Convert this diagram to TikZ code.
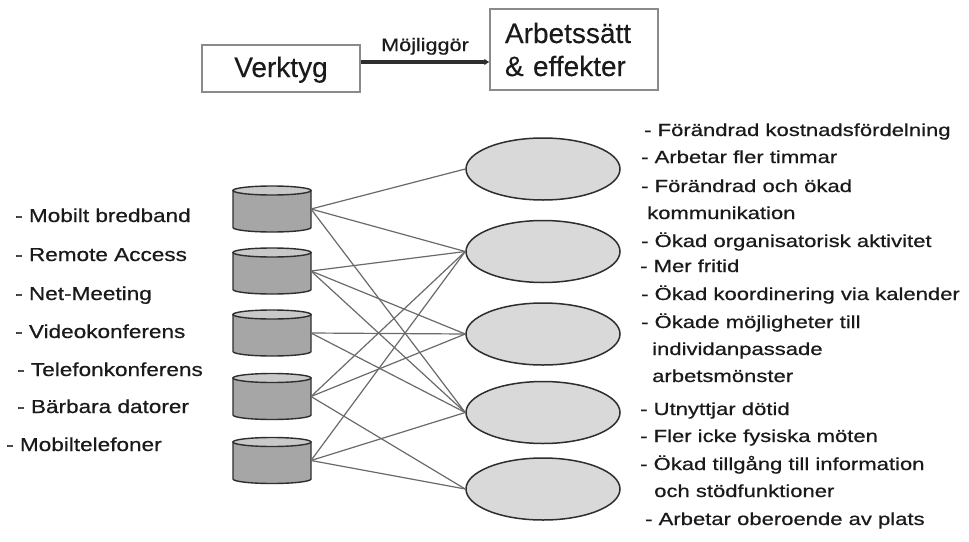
\documentclass[tikz,border=0pt]{standalone}
\usepackage{fontspec}
\setmainfont{Liberation Sans}[FakeBold=0.25]
\newfontfamily\widefont{Liberation Sans}[FakeStretch=1.2,FakeBold=0.6]
\newfontfamily\rightfont{Liberation Sans}[FakeStretch=1.26,FakeBold=0.6]
\usetikzlibrary{shapes.geometric,arrows.meta}
\definecolor{txt}{HTML}{1A1A1A}
\definecolor{boxline}{HTML}{8A8A8A}
\definecolor{edge}{HTML}{2E2E2E}
\definecolor{link}{HTML}{6A6A6A}
\definecolor{ovalfill}{HTML}{D9D9D9}
\definecolor{bodyfill}{HTML}{A6A6A6}
\definecolor{lidfill}{HTML}{C9C9C9}
\tikzset{
  topbox/.style={draw=boxline, line width=1.3pt, inner sep=0pt, text=txt,
    font=\fontsize{28}{33}\selectfont},
  enables/.style={draw=edge, line width=3.6pt, -{Latex[length=5pt,width=7pt]}},
  enableslabel/.style={font=\widefont\fontsize{18}{20}\selectfont, text=txt, inner sep=0pt, anchor=base},
  cylbox/.style={minimum width=78pt, minimum height=46pt, inner sep=0pt, outer sep=0pt},
  cylbody/.style={fill=bodyfill, draw=edge, line width=1.4pt},
  cyltop/.style={fill=lidfill, draw=edge, line width=1.4pt},
  oval/.style={ellipse, minimum width=154pt, minimum height=62pt, inner sep=0pt,
    fill=ovalfill, draw=edge, line width=1.5pt},
  link/.style={draw=link, line width=1.2pt},
  toolitem/.style={font=\widefont\fontsize{18.8}{20}\selectfont, text=txt, anchor=base west, inner sep=0pt},
  effectitem/.style={font=\rightfont\fontsize{17.5}{20}\selectfont, text=txt, anchor=base west, inner sep=0pt},
}
\begin{document}
\begin{tikzpicture}[x=1pt,y=-1pt]
\useasboundingbox[fill=white] (0,0) rectangle (969,541);

% Header: tools enable ways of working
\node[topbox, minimum width=158pt, minimum height=47pt, text height=20.5pt, text depth=3.5pt]
  (vk) at (281,68.5) {Verktyg};
\node[topbox, minimum width=168pt, minimum height=81pt, text width=138pt, inner xsep=15pt,
  align=left] (ae) at (574,49.5) {Arbetssätt\\\& effekter};
\draw[enables] ([yshift=6.5pt]vk.east) -- ([yshift=6.5pt]vk.east -| ae.west)
  node[enableslabel, midway, yshift=11pt] (mg) {Möjliggör};

% Tools (cylinders)
\foreach \i/\y in {1/209,2/271,3/333,4/396.5,5/460.5}{
  \node[cylbox] (c\i) at (272,\y) {};
  \path[cylbody] ([yshift=-4.5pt]c\i.north west) -- ([yshift=4.5pt]c\i.south west)
    arc[start angle=180, end angle=360, x radius=39pt, y radius=4.5pt]
    -- ([yshift=-4.5pt]c\i.north east) -- cycle;
  \path[cyltop] ([yshift=-4.5pt]c\i.north) ellipse[x radius=39pt, y radius=4.5pt];
}

% Effects (ovals)
\foreach \i/\y in {1/169,2/251.5,3/334,4/412.5,5/489}{
  \node[oval] (e\i) at (543,\y) {};
}

% Which tool enables which effect
\foreach \a/\b in {1/1,1/2,1/4,2/2,2/3,2/4,3/3,3/4,4/2,4/3,4/5,5/2,5/4,5/5}{
  \draw[link] (c\a.east) -- (e\b.west);
}

% Tool list
\node[toolitem] (t1) at (15,222) {- Mobilt bredband};
\node[toolitem] (t2) at (15,261) {- Remote Access};
\node[toolitem] (t3) at (15,300) {- Net-Meeting};
\node[toolitem] (t4) at (15,338) {- Videokonferens};
\node[toolitem] (t5) at (17,376) {- Telefonkonferens};
\node[toolitem] (t6) at (17,413) {- Bärbara datorer};
\node[toolitem] (t7) at (6,451) {- Mobiltelefoner};

% Effect list
\node[effectitem] (r1)  at (644,136) {- Förändrad kostnadsfördelning};
\node[effectitem] (r2)  at (641,163) {- Arbetar fler timmar};
\node[effectitem] (r3)  at (641,192) {- Förändrad och ökad};
\node[effectitem] (r4)  at (647,219) {kommunikation};
\node[effectitem] (r5)  at (641,247) {- Ökad organisatorisk aktivitet};
\node[effectitem] (r6)  at (640,272) {- Mer fritid};
\node[effectitem] (r7)  at (641,300) {- Ökad koordinering via kalender};
\node[effectitem] (r8)  at (641,328) {- Ökade möjligheter till};
\node[effectitem] (r9)  at (652,355) {individanpassade};
\node[effectitem] (r10) at (652,382) {arbetsmönster};
\node[effectitem] (r11) at (640,415) {- Utnyttjar dötid};
\node[effectitem] (r12) at (640,442) {- Fler icke fysiska möten};
\node[effectitem] (r13) at (640,470) {- Ökad tillgång till information};
\node[effectitem] (r14) at (654,497) {och stödfunktioner};
\node[effectitem] (r15) at (645,525) {- Arbetar oberoende av plats};
\end{tikzpicture}
\end{document}
